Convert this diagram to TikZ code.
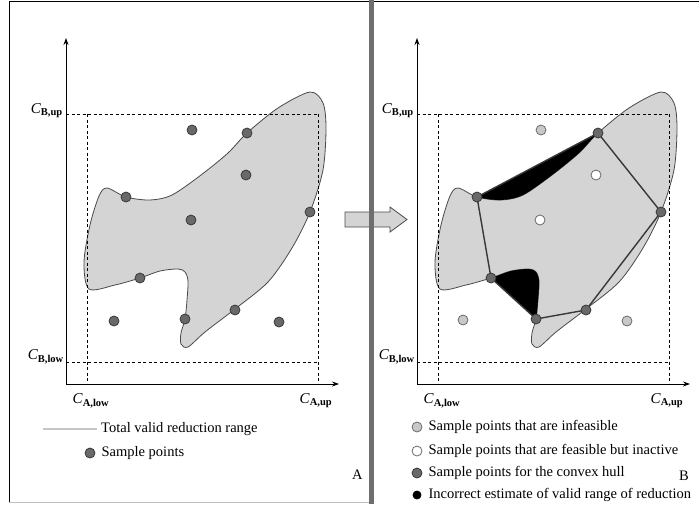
\documentclass[tikz,border=0pt]{standalone}
\usepackage{fontspec}
\setmainfont{Liberation Serif}
\usetikzlibrary{positioning,arrows.meta}
\definecolor{rangeFill}{HTML}{D4D4D4}
\definecolor{rangeBorder}{HTML}{4A4A4A}
\definecolor{pointFill}{HTML}{696969}
\definecolor{pointBorder}{HTML}{383838}
\definecolor{infeasFill}{HTML}{C8C8C8}
\definecolor{infeasBorder}{HTML}{6A6A6A}
\definecolor{dividerFill}{HTML}{6E6E6E}

\newcommand{\conc}[1]{\textit{C}\textsubscript{\textbf{#1}}}
\newcommand{\rangepath}{plot[smooth cycle, tension=0.5] coordinates {(310,92) (323,103) (326,128) (323,170) (310,212) (292,248) (268,282) (235,309) (205,332) (188,347) (181,344) (181,333) (185,319) (187,300) (188,281) (185,272) (178,269) (160,271) (140,278) (115,285) (89,289) (84,262) (90,225) (99,196) (107,188) (126,197) (150,200) (172,195) (201,175) (228,153) (247,133) (278,108)}}

\begin{document}
\begin{tikzpicture}[
    x=1pt, y=-1pt,
    validrange/.style={fill=rangeFill, draw=rangeBorder, line width=0.8pt},
    sample/.style={
        circle, draw=pointBorder, fill=pointFill,
        line width=0.8pt, minimum size=10pt, inner sep=0pt
    },
    infeasible/.style={sample, draw=infeasBorder, fill=infeasFill},
    inactive/.style={sample, draw=infeasBorder, fill=white},
    wrong/.style={sample, draw=black, fill=black, minimum size=8pt},
    hull/.style={draw=pointBorder, line width=1.4pt},
    bound/.style={dash pattern=on 3pt off 2.5pt, line width=0.7pt},
    axis/.style={-{Stealth[length=7pt, width=5pt]}, line width=0.8pt},
    clabel/.style={inner sep=0pt, font=\fontsize{15}{16}\selectfont},
    legend/.style={anchor=west, inner sep=0pt, font=\fontsize{14.5}{16}\selectfont}
]
  \useasboundingbox (0,0) rectangle (699,504);

  % Frame
  \draw[line width=0.8pt] (9,502) -- (9,1) -- (699,1);
  \draw[gray!50, line width=0.5pt] (9,502) -- (369,502);

  % Left panel: total valid range and samples
  \begin{scope}
    \draw[validrange] \rangepath;
    \draw[bound] (66,114) -- (318,114) (87,114) -- (87,384)
                 (318,114) -- (318,384) (66,362) -- (318,362);
    \coordinate (aO) at (66,384);
    \coordinate (aY) at (66,38);
    \coordinate (aX) at (339,384);
    \draw[axis] (aO) -- (aY);
    \draw[axis] (aO) -- (aX);
    \node[clabel, anchor=east] (aBup) at (63,111) {\conc{B,up}};
    \node[clabel, anchor=east] (aBlow) at (64,357) {\conc{B,low}};
    \node[clabel] (aAlow) at (91,401) {\conc{A,low}};
    \node[clabel] (aAup) at (316,401) {\conc{A,up}};

    \node[sample] (s1) at (192,130) {};
    \node[sample] (s2) at (247,133) {};
    \node[sample] (s3) at (246,175) {};
    \node[sample] (s4) at (126,197) {};
    \node[sample] (s5) at (191,220) {};
    \node[sample] (s6) at (310,212) {};
    \node[sample] (s7) at (140,278) {};
    \node[sample] (s8) at (114,321) {};
    \node[sample] (s9) at (185,319) {};
    \node[sample] (s10) at (235,310) {};
    \node[sample] (s11) at (279,322) {};

    % Legend
    \coordinate (swA) at (43,429);
    \coordinate (swB) at (97,429);
    \draw[gray!45, line width=2.5pt] (swA) -- (swB);
    \node[legend, right=4pt of swB] (lgRange) {Total valid reduction range};
    \node[sample] (lgDot) at (90,453) {};
    \node[legend, right=6pt of lgDot] (lgSample) {Sample points};
    \node[legend] (tagA) at (352,475) {A};
  \end{scope}

  % Block arrow between panels
  \draw[fill=rangeFill, draw=rangeBorder, line width=0.8pt]
    (345,212) -- (390,212) -- (390,207) -- (407,219.5) -- (390,232)
    -- (390,227) -- (345,227) -- cycle;
  \fill[dividerFill] (369,0) rectangle (374,504);

  % Right panel: convex hull estimate
  \begin{scope}[shift={(351,0)}]
    \draw[validrange] \rangepath;
    \coordinate (h1) at (126,197);
    \coordinate (h2) at (247,133);
    \coordinate (h3) at (310,212);
    \coordinate (h4) at (235,310);
    \coordinate (h5) at (185,319);
    \coordinate (h6) at (140,278);
    \begin{scope}
      \clip (h1) -- (h2) -- (h3) -- (h4) -- (h5) -- (h6) -- cycle;
      \fill[black, even odd rule] (60,60) rectangle (340,360) \rangepath;
    \end{scope}
    \draw[bound] (66,114) -- (318,114) (87,114) -- (87,384)
                 (318,114) -- (318,384) (66,362) -- (318,362);
    \coordinate (bO) at (66,384);
    \coordinate (bY) at (66,38);
    \coordinate (bX) at (339,384);
    \draw[axis] (bO) -- (bY);
    \draw[axis] (bO) -- (bX);
    \node[clabel, anchor=east] (bBup) at (63,111) {\conc{B,up}};
    \node[clabel, anchor=east] (bBlow) at (64,357) {\conc{B,low}};
    \node[clabel] (bAlow) at (91,401) {\conc{A,low}};
    \node[clabel] (bAup) at (316,401) {\conc{A,up}};

    \draw[hull] (h1) -- (h2) -- (h3) -- (h4) -- (h5) -- (h6) -- cycle;
    \node[sample] (c1) at (h1) {};
    \node[sample] (c2) at (h2) {};
    \node[sample] (c3) at (h3) {};
    \node[sample] (c4) at (h4) {};
    \node[sample] (c5) at (h5) {};
    \node[sample] (c6) at (h6) {};
    \node[infeasible] (f1) at (190,130) {};
    \node[infeasible] (f2) at (112,320) {};
    \node[infeasible] (f3) at (276,321) {};
    \node[inactive] (i1) at (245,175) {};
    \node[inactive] (i2) at (189,220) {};

    % Legend
    \node[infeasible] (lgInf) at (66,427) {};
    \node[legend, right=6pt of lgInf] {Sample points that are infeasible};
    \node[inactive] (lgIna) at (66,451) {};
    \node[legend, right=6pt of lgIna] {Sample points that are feasible but inactive};
    \node[sample] (lgHull) at (66,473) {};
    \node[legend, right=6pt of lgHull] {Sample points for the convex hull};
    \node[wrong] (lgWrong) at (66,495) {};
    \node[legend, right=7pt of lgWrong] {Incorrect estimate of valid range of reduction};
    \node[legend] (tagB) at (328,476) {B};
  \end{scope}
\end{tikzpicture}
\end{document}
